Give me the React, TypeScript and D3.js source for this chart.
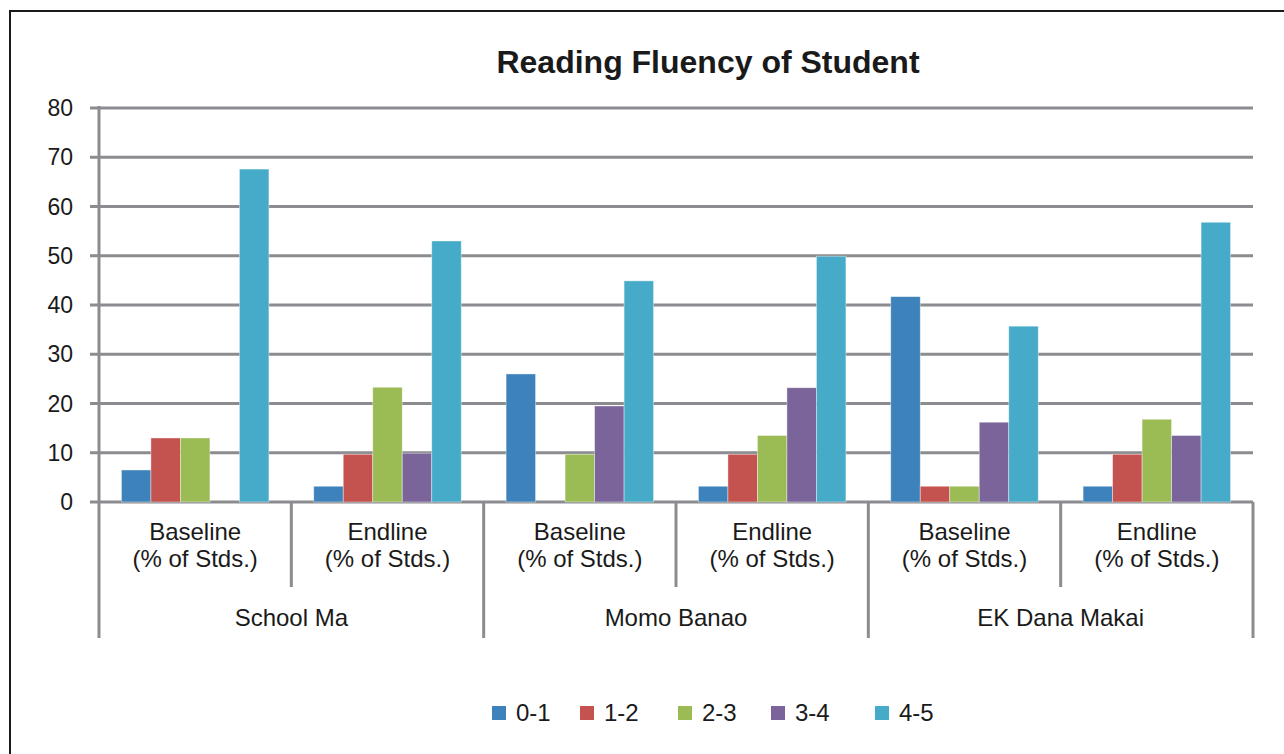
import React from "react";
import * as d3 from "d3";

const schools = ["School Ma", "Momo Banao", "EK Dana Makai"];
const phases = ["Baseline", "Endline"];
const seriesNames = ["0-1", "1-2", "2-3", "3-4", "4-5"];
const seriesColors = ["#3D82BA", "#C4524E", "#9BBB55", "#7A6499", "#46ABC8"];
const yTicks = [0, 10, 20, 30, 40, 50, 60, 70, 80];

const schoolMaBaseline = [6.5, 13, 13, 0, 67.6];
const schoolMaEndline = [3.2, 9.7, 23.3, 9.9, 53];
const momoBaseline = [26, 0, 9.7, 19.5, 44.9];
const momoEndline = [3.2, 9.7, 13.5, 23.2, 49.9];
const ekBaseline = [41.7, 3.2, 3.2, 16.2, 35.7];
const ekEndline = [3.2, 9.7, 16.8, 13.5, 56.8];

const groupValues = [schoolMaBaseline, schoolMaEndline, momoBaseline, momoEndline, ekBaseline, ekEndline];

export default function App() {
  const W = 1284, H = 754;
  const left = 99, right = 1253, top = 108, bottom = 502;
  const groups = schools.flatMap((s) => phases.map((p) => `${s}|${p}`));
  const x0 = d3.scaleBand().domain(groups).range([left, right]).paddingInner(0).paddingOuter(0);
  const x1 = d3.scaleBand().domain(seriesNames).range([0, x0.bandwidth()]).paddingInner(0).paddingOuter(0.76);
  const y = d3.scaleLinear().domain([0, 80]).range([bottom, top]);
  const grid = "#8B8C8F";
  const font = "'Liberation Sans', Arial, sans-serif";
  const schoolW = x0.bandwidth() * 2;
  const legendX = [492, 580, 678, 771, 875];

  return (
    <svg width={W} height={H} style={{ position: "absolute", left: 0, top: 0, background: "#fff" }} fontFamily={font}>
      <rect x={10} y={11} width={1300} height={800} fill="#fff" stroke="#1a1a1a" strokeWidth={2} />
      <text x={708} y={73} textAnchor="middle" fontSize={32} fontWeight="bold" fill="#1a1a1a">Reading Fluency of Student</text>
      {yTicks.map((t) => (
        <g key={t}>
          <line x1={90} x2={right} y1={y(t)} y2={y(t)} stroke={grid} strokeWidth={3} />
          <text x={73} y={y(t) + 8} textAnchor="end" fontSize={23} fill="#1a1a1a">{t}</text>
        </g>
      ))}
      {groupValues.map((vals, gi) => (
        <g key={gi} transform={`translate(${x0(groups[gi])},0)`}>
          {vals.map((v, si) => v > 0 ? (
            <rect key={si} x={x1(seriesNames[si])} y={y(v)} width={x1.bandwidth()} height={y(0) - y(v)}
              fill={seriesColors[si]} stroke="#ffffff" strokeOpacity={0.5} strokeWidth={0.8} />
          ) : null)}
        </g>
      ))}
      <line x1={left} x2={left} y1={top - 2} y2={bottom} stroke={grid} strokeWidth={3} />
      {groups.map((g, gi) => {
        const gx = x0(g)!;
        const [, phase] = g.split("|");
        return (
          <g key={g}>
            <line x1={gx} x2={gx} y1={bottom} y2={gi % 2 === 0 ? 638 : 587} stroke={grid} strokeWidth={3} />
            <text x={gx + x0.bandwidth() / 2} y={540} textAnchor="middle" fontSize={24} fill="#1a1a1a">{phase}</text>
            <text x={gx + x0.bandwidth() / 2} y={567} textAnchor="middle" fontSize={24} fill="#1a1a1a">(% of Stds.)</text>
          </g>
        );
      })}
      <line x1={right} x2={right} y1={bottom} y2={638} stroke={grid} strokeWidth={3} />
      {schools.map((s, i) => (
        <text key={s} x={left + schoolW * i + schoolW / 2} y={626} textAnchor="middle" fontSize={24} fill="#1a1a1a">{s}</text>
      ))}
      {seriesNames.map((n, i) => (
        <g key={n}>
          <rect x={legendX[i]} y={706} width={14} height={14} fill={seriesColors[i]} />
          <text x={legendX[i] + 24} y={721} fontSize={24} fill="#1a1a1a">{n}</text>
        </g>
      ))}
    </svg>
  );
}
